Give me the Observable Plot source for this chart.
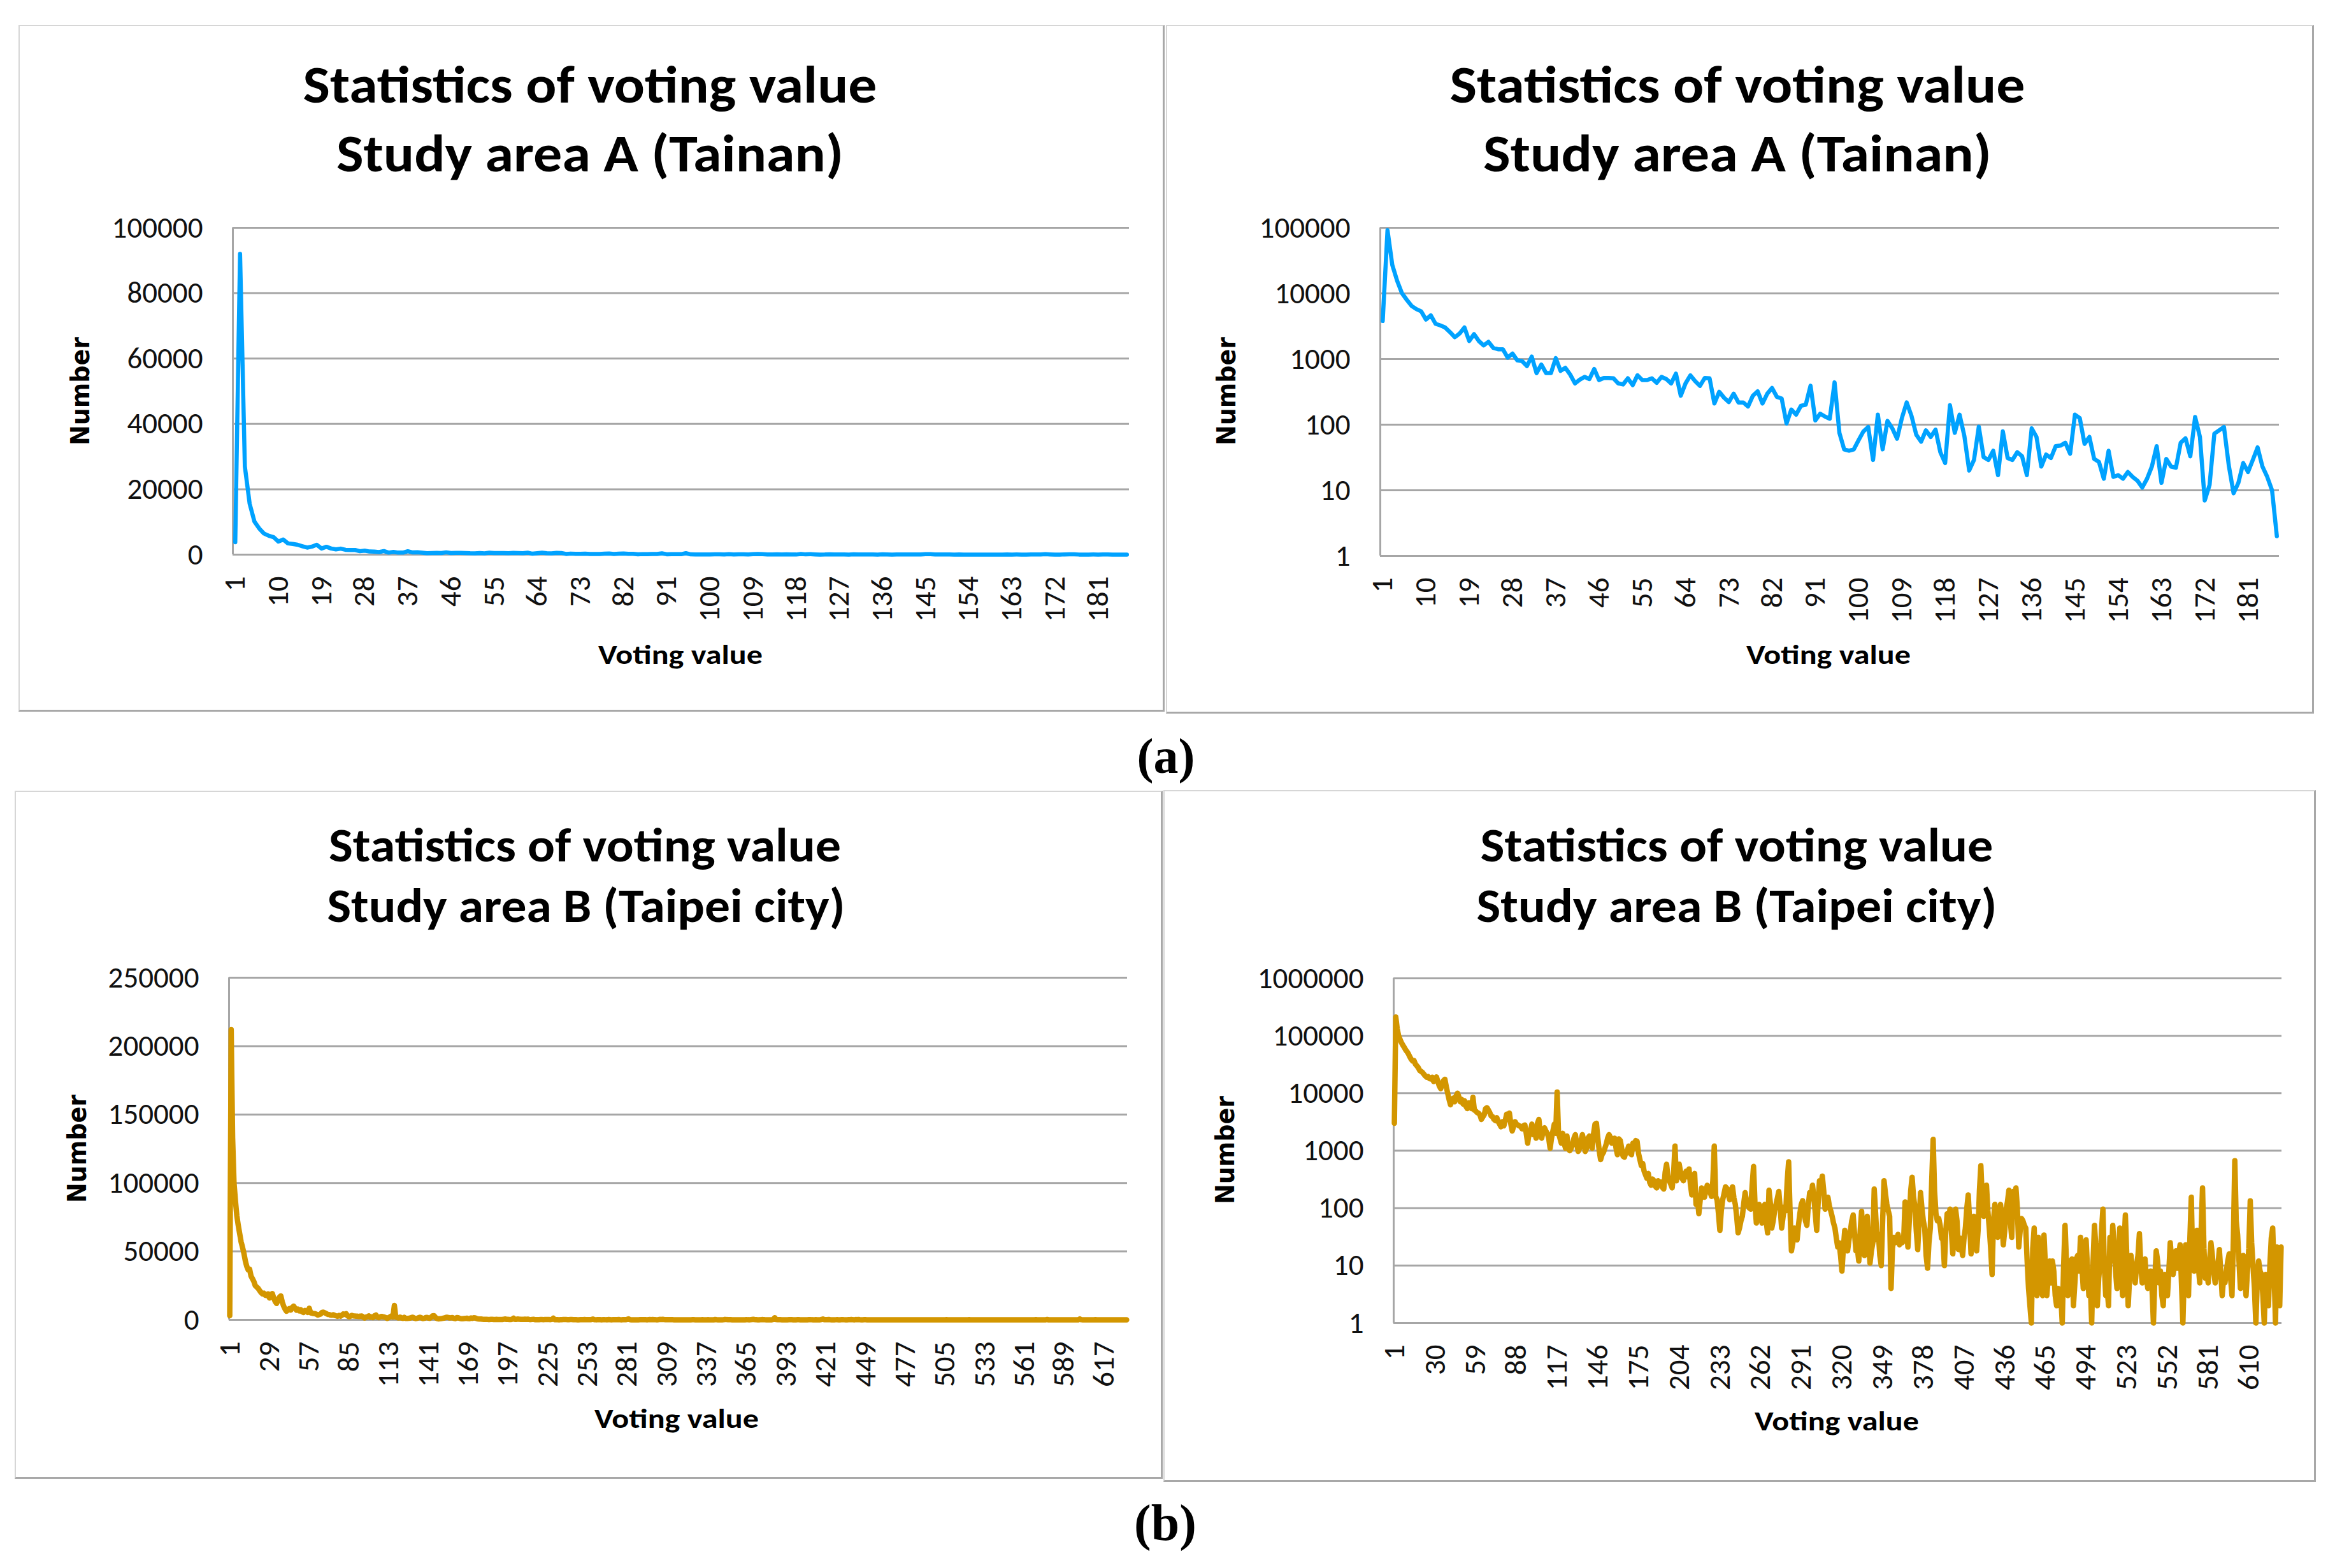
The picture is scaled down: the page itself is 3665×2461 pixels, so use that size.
<!DOCTYPE html>
<html>
<head>
<meta charset="utf-8">
<script src="https://cdn.jsdelivr.net/npm/d3@7"></script>
<script src="https://cdn.jsdelivr.net/npm/@observablehq/plot@0.6"></script>
<style>
html,body{margin:0;padding:0;background:#fff;}
#page{position:relative;width:3665px;height:2461px;overflow:hidden;background:#fff;}
.panel{position:absolute;box-sizing:border-box;border-left:2px solid #d6d6d6;border-top:2px solid #d6d6d6;border-right:3px solid #a8a8a8;border-bottom:3px solid #a8a8a8;background:#fff;}
.chart{position:absolute;}
.chart svg{display:block;overflow:visible;}
</style>
</head>
<body>
<div id="page"></div>
<script>
// ---------- data ----------
// Study area A (Tainan): number of cells per voting value 1..187
const votingA = [
3800,92000,27000,15600,10100,8000,6450,5770,5330,4000,
4630,3440,3250,3020,2570,2150,2450,3030,1880,2400,
1880,1610,1830,1480,1410,1410,1050,1210,955,930,
780,1090,610,823,610,610,1030,660,735,580,
425,485,535,495,705,478,515,515,508,425,
410,508,400,565,478,478,508,435,535,495,
425,600,276,425,565,460,390,515,508,210,
317,258,221,297,218,218,189,276,322,210,
297,362,265,250,104,170,142,194,201,392,
116,147,133,123,441,75,42,40,42,58,
79,92,29,142,42,114,88,61,126,218,
136,70,55,82,65,84,38,26,198,75,
142,67,20,29,93,32,29,40,17,79,
31,29,38,33,17,88,65,23,35,31,
47,48,53,36,142,126,51,65,30,27,
15,40,16,17,15,19,16,14,11,15,
23,47,13,30,23,22,53,62,33,131,
65,7,12,73,82,92,24,9,13,26,
19,29,45,23,16,10,2
];
// Study area B (Taipei city): number of cells per voting value 1..633
const votingB = [
3000,212000,133000,100000,87000,76000,69000,63000,57000,53000,
48500,43000,39000,36500,37000,32000,30000,28000,25000,24000,
23000,21500,20000,19000,19500,18000,17700,19000,16000,17000,
19200,16000,13400,12000,14500,16500,17500,13000,10000,7800,
6300,7400,8200,7100,9000,10000,8600,7100,7800,6500,
7400,5900,5400,6800,6100,5400,8500,5100,4900,4600,
4500,4200,3500,3850,4200,5400,5600,5100,4600,4000,
3900,3500,3330,3750,3200,2900,2600,3200,2700,3300,
4300,4000,4500,2900,2200,2650,3200,2900,2800,2700,
2650,2400,2700,2800,2000,1350,2000,2200,2900,1900,
2200,1650,3000,3500,2000,1650,2200,2500,2200,2000,
1650,1100,1650,2200,2900,2000,10500,2000,1650,1350,
2000,1350,1100,1800,1070,1000,1100,1300,1650,1900,
1300,970,1100,1500,1900,1500,970,1100,1650,1800,
1300,1100,2000,2900,3000,1650,1000,700,850,930,
1100,1300,1650,1900,1700,1350,1500,1650,1100,850,
1600,1500,1100,800,770,950,1000,1200,900,850,
1350,1100,1500,1450,900,700,550,600,440,380,
330,400,280,250,320,300,240,225,300,260,
285,230,215,420,580,350,300,260,225,400,
1200,300,380,580,420,330,300,380,440,350,
480,260,170,300,400,116,150,80,140,225,
180,155,200,250,230,190,160,300,1200,160,
140,80,41,90,140,180,235,220,170,140,
200,235,150,116,70,37,45,60,72,120,
186,130,116,100,96,250,530,120,55,80,
116,90,55,80,116,60,37,205,120,45,
60,90,116,150,195,100,45,70,105,90,
300,640,90,18,25,45,35,28,50,80,
116,135,90,60,50,110,186,150,250,160,
80,41,120,300,250,360,200,96,130,155,
110,90,72,55,45,30,21,25,15,8,
20,41,30,18,28,40,60,76,35,18,
20,12,40,88,30,15,40,72,25,11,
18,25,215,80,28,35,15,10,60,300,
180,116,90,72,4,20,31,25,28,35,
23,30,25,28,128,60,21,60,200,345,
160,105,40,19,60,186,100,60,45,15,
9,25,45,300,1570,200,80,60,66,50,
30,28,10,40,80,60,96,40,16,45,
96,60,19,30,22,15,30,45,100,170,
60,16,40,72,30,18,40,200,550,150,
72,130,250,90,45,20,7,60,116,50,
31,70,116,60,23,40,96,130,205,60,
31,195,120,225,100,21,40,66,60,50,
45,12,4,2,1,20,45,8,3,31,
10,4,3,34,10,3,6,12,5,12,
8,3,2,4,2,3,1,10,50,12,
3,6,12,13,2,5,13,15,8,31,
10,4,12,28,9,3,5,1,12,50,
20,2,6,11,40,96,10,3,4,2,
31,12,50,20,8,4,15,45,10,3,
20,76,15,2,6,15,9,8,5,10,
15,36,10,5,8,13,6,4,5,8,
4,1,6,18,12,5,8,3,2,7,
5,3,8,25,12,7,10,18,9,15,
23,5,1,8,23,6,3,30,155,11,
8,20,41,10,5,40,225,20,6,10,
5,12,25,15,8,5,7,10,19,8,
3,6,5,8,12,16,6,3,30,670,
60,34,12,4,8,15,6,3,8,20,
134,25,10,4,1,5,12,8,7,3,
1,7,4,2,10,30,45,8,1,21,6,2,21
];

// tick labels
const xTicksA = [1,10,19,28,37,46,55,64,73,82,91,100,109,118,127,136,145,154,163,172,181];
const xTicksBLin = [1,29,57,85,113,141,169,197,225,253,281,309,337,365,393,421,449,477,505,533,561,589,617];
const xTicksBLog = [1,30,59,88,117,146,175,204,233,262,291,320,349,378,407,436,465,494,523,552,581,610];
const yTicksALin = [0,20000,40000,60000,80000,100000];
const yTicksALog = [1,10,100,1000,10000,100000];
const yTicksBLin = [0,50000,100000,150000,200000,250000];
const yTicksBLog = [1,10,100,1000,10000,100000,1000000];

// texts
const titleA = ["Statistics of voting value", "Study area A (Tainan)"];
const titleB = ["Statistics of voting value", "Study area B (Taipei city)"];
const yLabel = "Number";
const xLabel = "Voting value";
const subLabels = ["(a)", "(b)"];

const colorA = "#00a2ff";
const colorB = "#d39600";

// ---------- layout ----------
const page = document.getElementById("page");

const panels = [
  {l:29, t:39, r:1828, b:1117},
  {l:1830, t:39, r:3632, b:1120},
  {l:23, t:1241, r:1825, b:2321},
  {l:1826, t:1240, r:3635, b:2326}
];
panels.forEach(p => {
  const d = document.createElement("div");
  d.className = "panel";
  d.style.left = p.l + "px"; d.style.top = p.t + "px";
  d.style.width = (p.r - p.l) + "px"; d.style.height = (p.b - p.t) + "px";
  page.appendChild(d);
});

const tableA = votingA.map((v, i) => ({x: i + 1, y: v}));
const tableB = votingB.map((v, i) => ({x: i + 1, y: v}));

function chart(cfg) {
  const mL = 260, mR = 30, mT = 30, mB = 150;
  const a = cfg.area;
  const w = a.R - a.L, h = a.B - a.T;
  const svg = Plot.plot({
    width: w + mL + mR,
    height: h + mT + mB,
    marginLeft: mL, marginRight: mR, marginTop: mT, marginBottom: mB,
    style: {fontFamily: "Carlito, 'Open Sans', sans-serif", fontSize: "47px", color: "#111", background: "transparent"},
    x: {type: "linear", domain: [0.5, cfg.n + 0.5], ticks: cfg.xTicks, tickFormat: d => String(d),
        tickRotate: -90, tickSize: 0, tickPadding: 34, label: null},
    y: {type: cfg.yType, domain: cfg.yDomain, ticks: cfg.yTicks, tickFormat: d3.format("d"),
        tickSize: 0, tickPadding: 47, label: null},
    marks: [
      Plot.gridY(cfg.yTicks, {stroke: "#a6a6a6", strokeOpacity: 1, strokeWidth: 3}),
      Plot.ruleX([0.5], {stroke: "#a6a6a6", strokeOpacity: 1, strokeWidth: 3}),
      Plot.line(cfg.data, {x: "x", y: "y", stroke: cfg.color, strokeWidth: cfg.sw, strokeLinejoin: "round", strokeLinecap: "round"})
    ]
  });
  const d = document.createElement("div");
  d.className = "chart";
  d.style.left = (a.L - mL) + "px";
  d.style.top = (a.T - mT) + "px";
  d.appendChild(svg);
  page.appendChild(d);
}

chart({area:{L:365,R:1772,T:357,B:870}, n:votingA.length, data:tableA, color:colorA, sw:6.5,
       xTicks:xTicksA, yType:"linear", yDomain:[0,100000], yTicks:yTicksALin});
chart({area:{L:2166,R:3577,T:357,B:872}, n:votingA.length, data:tableA, color:colorA, sw:6.5,
       xTicks:xTicksA, yType:"log", yDomain:[1,100000], yTicks:yTicksALog});
chart({area:{L:359,R:1769,T:1534,B:2071}, n:votingB.length, data:tableB, color:colorB, sw:8.5,
       xTicks:xTicksBLin, yType:"linear", yDomain:[0,250000], yTicks:yTicksBLin});
chart({area:{L:2187,R:3581,T:1535,B:2076}, n:votingB.length, data:tableB, color:colorB, sw:8.5,
       xTicks:xTicksBLog, yType:"log", yDomain:[1,1000000], yTicks:yTicksBLog});

// ---------- text overlay ----------
const ov = d3.create("svg").attr("width", 3665).attr("height", 2461)
  .style("position", "absolute").style("left", "0px").style("top", "0px");
const titleFont = "Carlito, 'Liberation Sans Narrow', 'Open Sans', sans-serif";

function addText(txt, x, y, size, len, family, extra) {
  const t = ov.append("text").attr("x", x).attr("y", y)
    .attr("text-anchor", "middle").attr("font-family", family)
    .attr("font-weight", "bold").attr("font-size", size).attr("fill", "#000").text(txt);
  if (len) t.attr("textLength", len).attr("lengthAdjust", "spacingAndGlyphs");
  if (extra) t.attr("transform", extra);
  return t;
}

// titles
addText(titleA[0], 926, 161, 83, 901, titleFont);
addText(titleA[1], 926, 269, 83, 796, titleFont);
addText(titleA[0], 2727, 161, 83, 903, titleFont);
addText(titleA[1], 2727, 269, 83, 798, titleFont);
addText(titleB[0], 918, 1352, 74, 804, titleFont);
addText(titleB[1], 920, 1447, 74, 813, titleFont);
addText(titleB[0], 2726, 1352, 74, 805, titleFont);
addText(titleB[1], 2726, 1447, 74, 817, titleFont);

// y labels (rotated)
[[140, 614], [1939, 614], [135, 1803], [1937, 1805]].forEach(([x, y]) => {
  addText(yLabel, 0, 0, 40, 170, "'DejaVu Sans', sans-serif", `translate(${x},${y}) rotate(-90)`);
});
// x labels
[[1068, 1042], [2870, 1042], [1062, 2241], [2883, 2245]].forEach(([x, y]) => {
  addText(xLabel, x, y, 42, 258, titleFont);
});
// sub-figure labels
addText(subLabels[0], 1830, 1213, 78, null, "'Liberation Serif', 'Times New Roman', serif");
addText(subLabels[1], 1829, 2417, 80, null, "'Liberation Serif', 'Times New Roman', serif");

page.appendChild(ov.node());
</script>
</body>
</html>
